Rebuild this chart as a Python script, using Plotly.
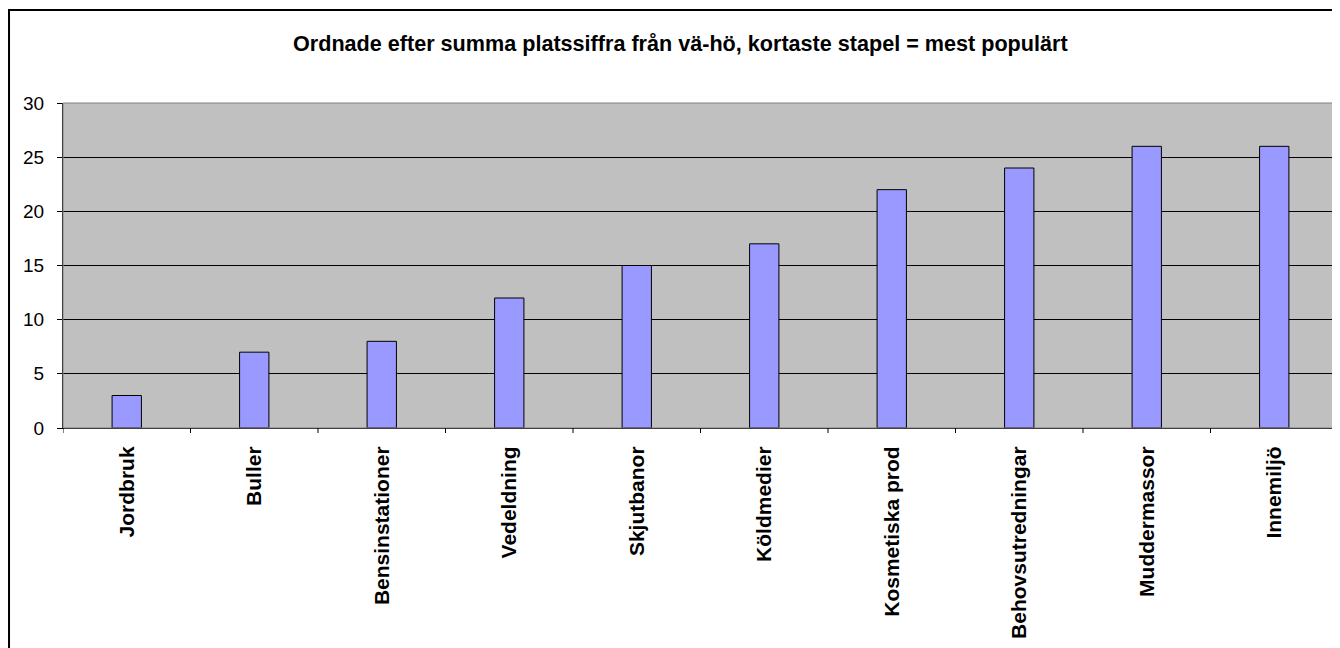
import plotly.graph_objects as go

categories = ["Jordbruk", "Buller", "Bensinstationer", "Vedeldning", "Skjutbanor",
              "Köldmedier", "Kosmetiska prod", "Behovsutredningar", "Muddermassor", "Innemiljö"]
values = [3, 7, 8, 12, 15, 17, 22, 24, 26, 26]
y_ticks = [0, 5, 10, 15, 20, 25, 30]
title_text = "Ordnade efter summa platssiffra från vä-hö, kortaste stapel = mest populärt"

# page has an 8px body margin; all positions below are in figure pixels (screen - 8)
W, H = 1340, 648
L, R, T, B = 54.5, 1330, 94.5, 420
pw, ph = R - L, B - T
FONT = "Arial, Liberation Sans, sans-serif"

fig = go.Figure()
fig.add_trace(go.Bar(
    x=categories, y=values,
    marker=dict(color="#9999FF", line=dict(color="black", width=1)),
    width=0.23,
))

fig.update_layout(
    width=W, height=H,
    margin=dict(l=L, r=W - R, t=T, b=H - B, pad=0),
    paper_bgcolor="white",
    plot_bgcolor="#C0C0C0",
    showlegend=False,
    font=dict(family=FONT, color="black"),
    xaxis=dict(
        type="category",
        tickangle=-90,
        tickfont=dict(size=21, family=FONT, weight="bold"),
        ticks="",
        showline=True, linecolor="black", linewidth=1,
        showgrid=False,
        range=[-0.5, len(categories) - 0.5],
        ticklabelstandoff=9,
    ),
    yaxis=dict(
        range=[0, 30],
        tickvals=y_ticks,
        tickfont=dict(size=19),
        ticks="outside", ticklen=5, tickcolor="black", tickwidth=1,
        showline=True, linecolor="black", linewidth=1,
        showgrid=True, gridcolor="black", gridwidth=1,
        zeroline=False,
        ticklabelstandoff=9,
    ),
    annotations=[dict(
        text="<b>" + title_text + "</b>",
        xref="paper", yref="paper",
        x=(672 - L) / pw, y=(B - 35) / ph,
        xanchor="center", yanchor="middle",
        showarrow=False,
        font=dict(size=21.6, family=FONT),
    )],
)

shapes = []
# plot area border (gray)
shapes.append(dict(type="rect", xref="paper", yref="paper", x0=0, x1=1, y0=0, y1=1,
                   line=dict(color="#808080", width=1), layer="above"))
# category boundary tick marks on x axis
for i in range(len(categories) + 1):
    shapes.append(dict(type="line", xref="x", yref="paper",
                       x0=i - 0.5, x1=i - 0.5, y0=0, y1=-5 / ph,
                       line=dict(color="black", width=1)))
# outer chart border
shapes.append(dict(type="rect", xref="paper", yref="paper",
                   x0=(0.5 - L) / pw, x1=(1345 - L) / pw,
                   y0=(B - 700) / ph, y1=(B - 1.3) / ph,
                   line=dict(color="black", width=2)))
fig.update_layout(shapes=shapes)

fig.write_html("out.html")
